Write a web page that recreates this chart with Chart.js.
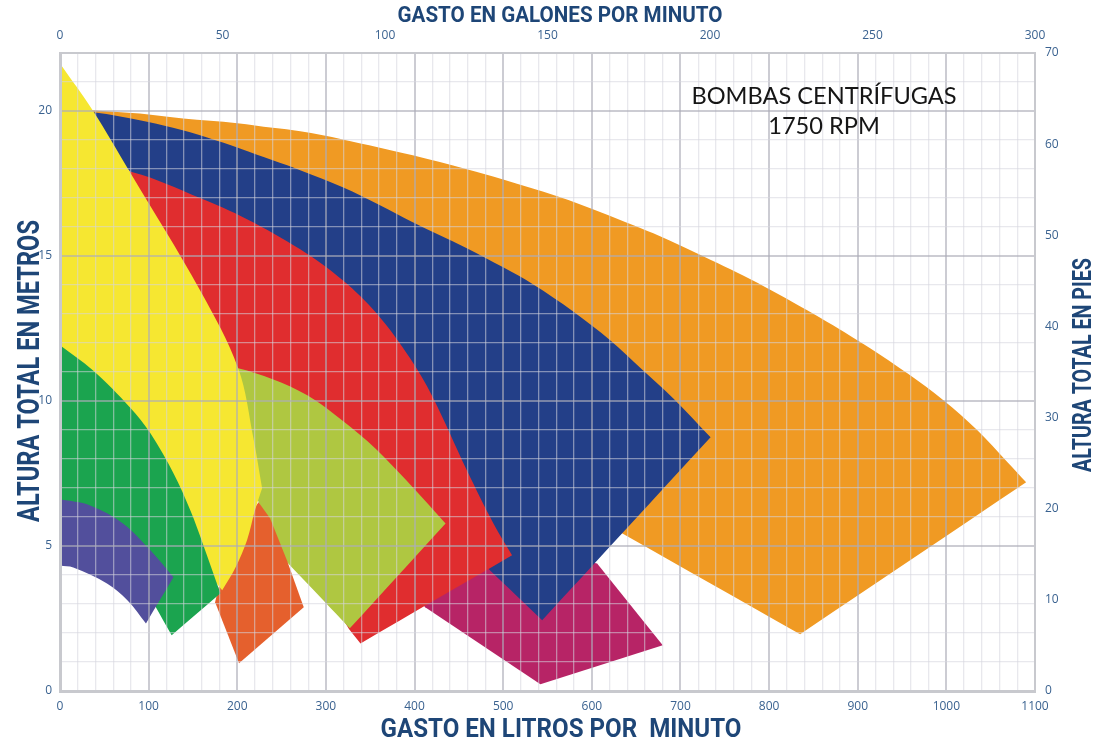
<!DOCTYPE html>
<html>
<head>
<meta charset="utf-8">
<script src="https://cdn.jsdelivr.net/npm/chart.js@4.4.0/dist/chart.umd.min.js"></script>
<style>
  html, body { margin: 0; padding: 0; background: #fff; }
  #wrap { width: 1104px; height: 747px; }
</style>
</head>
<body>
<div id="wrap"><canvas id="curvas" width="1104" height="747"></canvas></div>
<script>
// zonas de trabajo de cada bomba: [gasto L/min, altura m], recorridas como contorno
// (los vértices repetidos marcan esquinas rectas)
const bombaNaranja = [
  [11, 20.05], [39.5, 20.02], [90, 19.91], [139, 19.74], [200, 19.58], [240, 19.42], [271, 19.3],
  [319, 19.02], [398, 18.47], [459, 17.99], [500, 17.64], [561, 17.06], [610, 16.51], [647, 16.06],
  [677, 15.68], [719, 15.09], [779, 14.2], [843, 13.13], [900, 12.09], [956, 10.96], [997, 10.02],
  [1035, 8.99], [1069, 7.89],
  [1090, 7.2], [1090, 7.2], [835, 1.96], [835, 1.96], [634, 5.44], [634, 5.44],
  [587, 6.58], [587, 6.58], [474, 10.02], [474, 10.02], [327, 15.2], [327, 15.2],
  [102, 18.6], [102, 18.6], [11, 19.5]
];
const bombaMagenta = [
  [412, 2.89], [542, 0.23], [680, 1.58], [606, 4.4], [474, 5.2], [418, 4.51], [395, 3.47]
];
const bombaAzul = [
  [11, 19.95], [39.5, 19.95], [90, 19.68], [127.5, 19.42], [166, 19.09], [203, 18.71], [240, 18.3],
  [271, 17.96], [319, 17.37], [361, 16.75], [398, 16.16], [459, 15.27], [500, 14.61], [534, 14.02],
  [579, 13.09], [621, 12.09], [657, 11.08], [692, 10.09],
  [734, 8.75], [734, 8.75], [544, 2.44], [544, 2.44], [485, 4.16], [485, 4.16],
  [452, 5.2], [452, 5.2], [384, 9.33], [384, 9.33], [271, 13.47], [271, 13.47],
  [102, 17.27], [102, 17.27], [23, 19.5]
];
const bombaRoja = [
  [45, 17.9], [82, 17.89], [158, 17.0], [211, 16.27], [271, 15.23], [319, 14.16], [358, 12.99],
  [395, 11.47], [420, 10.16], [459, 7.61], [489, 5.78],
  [510, 4.68], [510, 4.68], [339, 1.64], [339, 1.64], [326, 2.14], [326, 2.14],
  [310, 2.95], [310, 2.95], [271, 4.68], [271, 4.68], [243, 5.89], [243, 5.89],
  [214, 7.61], [214, 7.61], [147, 13.47], [147, 13.47]
];
const bombaVerdeClaro = [
  [181, 11.2], [201, 11.13], [240, 10.75], [279, 10.2], [308, 9.58], [347, 8.61], [384, 7.48],
  [435, 5.78], [435, 5.78], [327, 2.16], [327, 2.16], [297, 3.13], [254, 4.51], [254, 4.51],
  [232, 5.89], [232, 5.89], [218, 6.99], [218, 6.99], [192, 9.0], [192, 9.0]
];
const bombaBermellon = [
  [224, 6.51], [237, 5.96], [256, 4.51], [275, 2.89], [202, 0.96], [175, 3.06], [192, 5.2]
];
const bombaAmarilla = [
  [0, 21.64], [37, 20.02], [79, 17.89], [158, 13.82], [201, 11.13], [218, 8.75],
  [228, 6.99], [228, 6.99], [220, 6.23], [211, 5.2], [198, 4.26], [183, 3.47], [183, 3.47],
  [0, 10.3], [0, 10.3]
];
const bombaVerde = [
  [0, 11.92], [37, 11.06], [79, 9.78], [102, 8.89], [128, 7.51], [147, 6.23], [161, 5.09],
  [181, 3.37], [181, 3.37], [126, 1.92], [126, 1.92], [107, 2.95], [107, 2.95],
  [79, 3.99], [79, 3.99], [0, 5.2]
];
const bombaMorada = [
  [0, 6.61], [34, 6.4], [71, 5.78], [102, 4.85],
  [128, 3.92], [128, 3.92], [97, 2.33], [97, 2.33], [76, 3.13], [53, 3.71], [15, 4.26], [0, 4.33]
];

// rangos de los ejes
const litrosMax = 1100, galonesMax = 300, metrosMax = 22, piesMax = 70;
const titulo = ['BOMBAS CENTRÍFUGAS', '1750 RPM'];

// de adelante hacia atrás (el primero queda encima)
const bombas = [
  { datos: bombaMorada, color: '#524f9c', curva: 0.35 },
  { datos: bombaVerde, color: '#1ba44f', curva: 0.35 },
  { datos: bombaAmarilla, color: '#f6e731', curva: 0.35 },
  { datos: bombaBermellon, color: '#e5602d', curva: 0 },
  { datos: bombaVerdeClaro, color: '#afc741', curva: 0.35 },
  { datos: bombaRoja, color: '#e02d2f', curva: 0.35 },
  { datos: bombaAzul, color: '#233f88', curva: 0.35 },
  { datos: bombaMagenta, color: '#b72466', curva: 0 },
  { datos: bombaNaranja, color: '#f09a23', curva: 0.35 }
];

const azulEje = '#1e4677';
const azulNum = '#3a6290';

const gridX = c => (c.tick && c.tick.value % 100 === 0) ? 'rgba(172,173,184,0.62)' : 'rgba(214,214,222,0.55)';
const gridY = c => (c.tick && c.tick.value % 5 === 0) ? 'rgba(172,173,184,0.62)' : 'rgba(214,214,222,0.55)';
const anchoX = c => (c.tick && c.tick.value % 100 === 0) ? 2 : 1.3;
const anchoY = c => (c.tick && c.tick.value % 5 === 0) ? 2 : 1.3;
const borde = { color: '#c8c9ce', width: 3, z: 2 };
const numeros = { family: "'Open Sans', sans-serif", size: 12 };

// texto angosto: se comprime a lo ancho hasta el largo indicado
function textoAngosto(ctx, texto, x, y, largo, size, angulo) {
  ctx.save();
  ctx.translate(x, y);
  ctx.rotate(angulo);
  ctx.font = 'bold ' + size + "px Roboto, 'DejaVu Sans', sans-serif";
  ctx.scale(largo / ctx.measureText(texto).width, 1);
  ctx.textAlign = 'center';
  ctx.textBaseline = 'alphabetic';
  ctx.fillStyle = azulEje;
  ctx.fillText(texto, 0, 0);
  ctx.restore();
}

const textos = {
  id: 'textos',
  afterDraw(chart) {
    const { ctx } = chart;
    const sx = chart.scales.x, sy = chart.scales.y;
    ctx.save();
    ctx.fillStyle = '#151515';
    ctx.textAlign = 'center';
    ctx.textBaseline = 'alphabetic';
    ctx.font = "24px Lato, 'DejaVu Sans', sans-serif";
    const size = 24 * 265 / ctx.measureText(titulo[0]).width;
    ctx.font = size.toFixed(1) + "px Lato, 'DejaVu Sans', sans-serif";
    const cx = sx.getPixelForValue(862);
    ctx.fillText(titulo[0], cx, sy.getPixelForValue(20.25));
    ctx.fillText(titulo[1], cx, sy.getPixelForValue(19.2));
    ctx.restore();

    textoAngosto(ctx, 'GASTO EN GALONES POR MINUTO', 560, 22, 325, 22, 0);
    textoAngosto(ctx, 'GASTO EN LITROS POR  MINUTO', 561, 737, 361, 25, 0);
    textoAngosto(ctx, 'ALTURA TOTAL EN METROS', 39, 371, 302, 31, -Math.PI / 2);
    textoAngosto(ctx, 'ALTURA TOTAL EN PIES', 1091, 365, 214, 25, -Math.PI / 2);
  }
};

new Chart(document.getElementById('curvas'), {
  type: 'scatter',
  data: {
    datasets: bombas.map(b => ({
      data: b.datos.map(([x, y]) => ({ x, y })),
      backgroundColor: b.color,
      borderWidth: 0,
      pointRadius: 0,
      showLine: true,
      tension: b.curva,
      fill: 'shape'
    }))
  },
  options: {
    responsive: false,
    animation: false,
    events: [],
    layout: { padding: 0 },
    plugins: { legend: { display: false }, tooltip: { enabled: false } },
    scales: {
      x: {
        type: 'linear', position: 'bottom', min: 0, max: litrosMax,
        afterFit: s => { s.height = 56; },
        ticks: {
          stepSize: 20, maxTicksLimit: 100, autoSkip: false, maxRotation: 0, padding: 8,
          color: azulNum, font: numeros,
          callback: v => v % 100 === 0 ? v : ''
        },
        grid: { z: 1, color: gridX, lineWidth: anchoX, drawTicks: false },
        border: borde
      },
      galones: {
        type: 'linear', position: 'top', min: 0, max: galonesMax,
        afterFit: s => { s.height = 53; },
        ticks: { stepSize: 50, padding: 10, color: azulNum, font: numeros },
        grid: { display: false, drawTicks: false },
        border: { color: '#c8c9ce', width: 2, z: 2 }
      },
      y: {
        type: 'linear', position: 'left', min: 0, max: metrosMax,
        afterFit: s => { s.width = 60; },
        ticks: {
          stepSize: 1, maxTicksLimit: 50, autoSkip: false, padding: 8,
          color: azulNum, font: numeros,
          callback: v => v % 5 === 0 ? v : ''
        },
        grid: { z: 1, color: gridY, lineWidth: anchoY, drawTicks: false },
        border: borde
      },
      pies: {
        type: 'linear', position: 'right', min: 0, max: piesMax,
        afterFit: s => { s.width = 69; },
        ticks: { stepSize: 10, padding: 10, color: azulNum, font: numeros },
        grid: { display: false, drawTicks: false },
        border: { color: '#c8c9ce', width: 2, z: 2 }
      }
    }
  },
  plugins: [textos]
});
</script>
</body>
</html>
